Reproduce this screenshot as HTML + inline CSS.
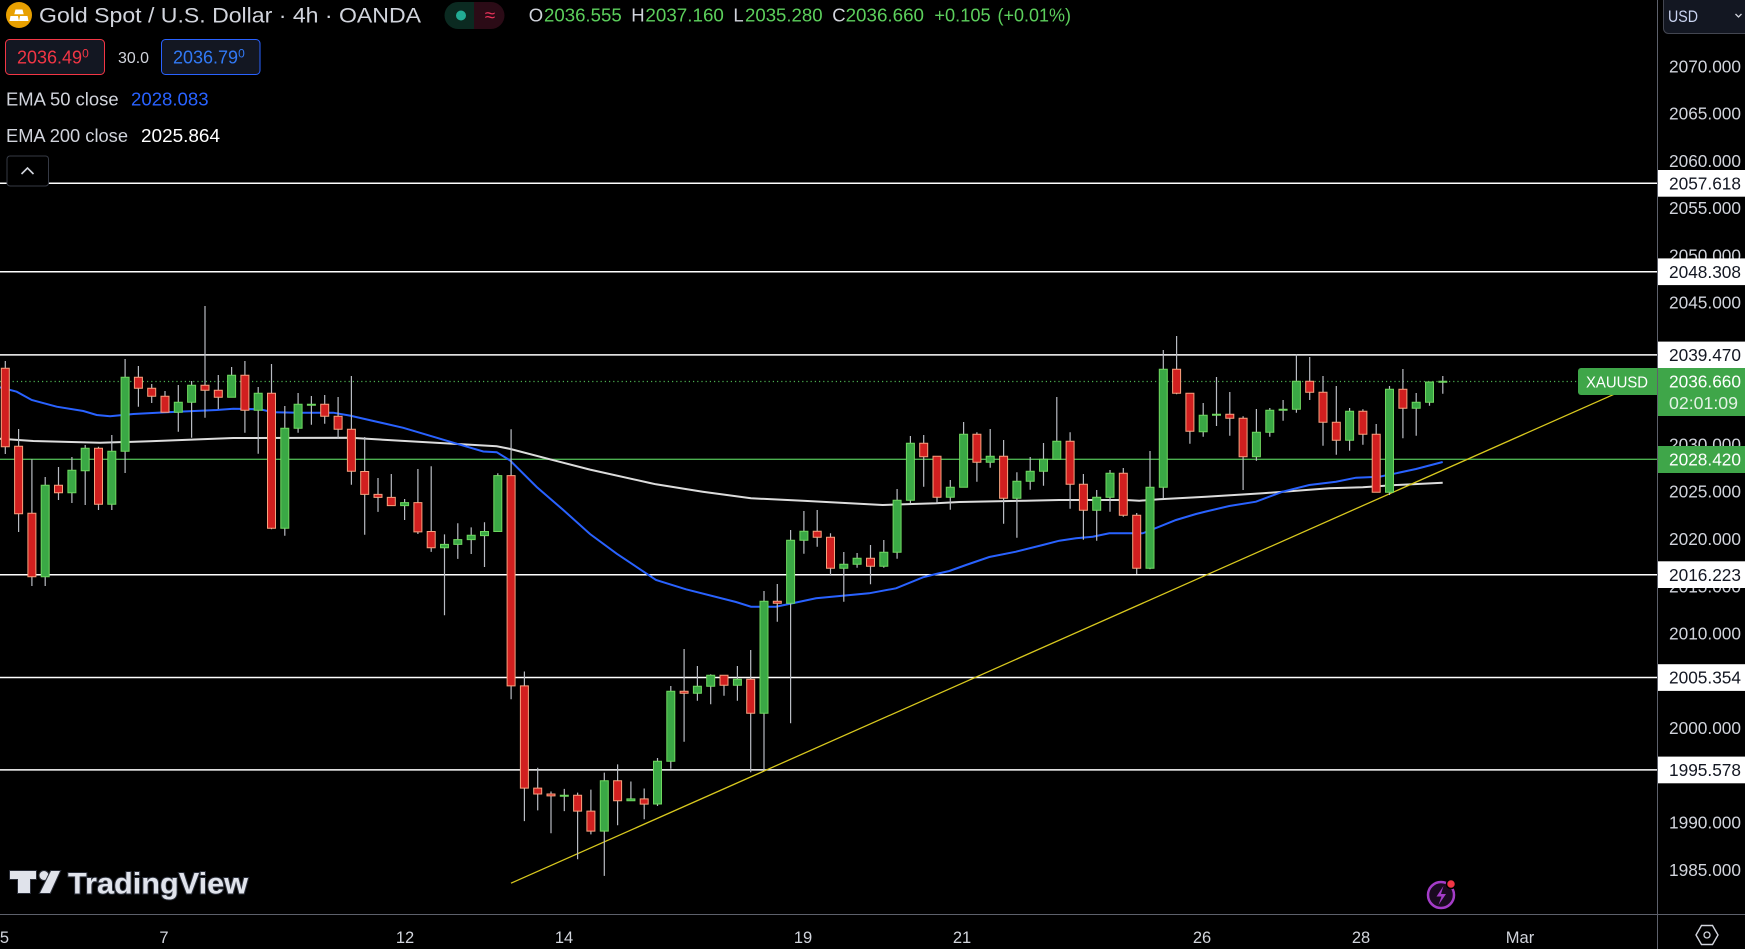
<!DOCTYPE html>
<html><head><meta charset="utf-8"><style>
html,body{margin:0;padding:0;background:#000;}
svg{display:block;}
text{font-family:"Liberation Sans",sans-serif;}
</style></head><body>
<svg width="1745" height="949" viewBox="0 0 1745 949" xmlns="http://www.w3.org/2000/svg">
<rect width="1745" height="949" fill="#000"/>
<defs><clipPath id="c"><rect x="0" y="0" width="1657" height="914"/></clipPath></defs>
<g clip-path="url(#c)">
<!-- horizontal level lines -->
<g stroke="#ffffff" stroke-width="1.5">
<line x1="0" y1="183.3" x2="1657" y2="183.3"/>
<line x1="0" y1="271.7" x2="1657" y2="271.7"/>
<line x1="0" y1="354.9" x2="1657" y2="354.9"/>
<line x1="0" y1="574.7" x2="1657" y2="574.7"/>
<line x1="0" y1="677.5" x2="1657" y2="677.5"/>
<line x1="0" y1="769.9" x2="1657" y2="769.9"/>
</g>
<line x1="0" y1="459.3" x2="1657" y2="459.3" stroke="#4caf50" stroke-width="1.3"/>
<line x1="0" y1="381.5" x2="1578" y2="381.5" stroke="#4caf50" stroke-width="1.2" stroke-dasharray="1.2 3"/>
<!-- EMA 200 -->
<polyline fill="none" stroke="#dcdcdc" stroke-width="2" points="0,438.7 33.3,441 100,442.7 150,441.3 233.3,438 350,437.8 496.7,446.3 510,448.9 550,459.3 590,469.6 650,483 656,484.3 702.7,491.7 751,498.3 802.7,500.7 882.7,505 936,503.3 959.3,502 1026,500.7 1059.3,500 1126,500 1139.3,500.7 1159.3,499.3 1206,496.7 1262.7,493.3 1329.3,488.3 1362.7,487.3 1396,485 1442.7,482.7"/>
<!-- EMA 50 -->
<polyline fill="none" stroke="#2962ff" stroke-width="2" points="0,387.3 16.7,391.7 31.7,400 56.7,406.7 83.3,411 96.7,415 110,416.3 133.3,414 166.7,412.3 216.7,410 233.3,408.7 260,409.3 273.3,412.3 300,412.7 333.3,412.7 350,415.6 403.3,427.8 456.7,443.7 483.3,451.5 496.7,452.2 510,460.4 536.7,487 563.3,510 590,534 616.7,553.7 650,575.9 656,580 686,589.3 736,602 751,606.7 776,606.7 789,604 816,598.3 869,593.3 896,588.3 923,577.3 936,574 949.3,571 966,565 989.3,557 1016,551.7 1042.7,545 1059.3,540.7 1076,538.3 1092.7,536.7 1109.3,533.3 1142.7,533.3 1159.3,526.7 1176,520 1196,514 1206,511.5 1229.3,506 1256,501.7 1282.7,491.7 1309.3,485 1336,481.7 1356,477.7 1379.3,476.7 1396,473.3 1416,469 1442.7,462"/>
<!-- trendline -->
<line x1="511" y1="883.2" x2="1614" y2="394.3" stroke="#d8c81e" stroke-width="1.3"/>
<!-- wicks -->
<path fill="none" stroke="#b8bbc2" stroke-width="1.2" d="M5.3 361V454M18.6 429V532M31.9 459.3V586M45.2 477V586M58.5 467V500M71.9 457V503M85.2 445V505M98.5 446.7V510M111.8 435V510M125.1 359V473M138.4 366V406.7M151.7 384V403M165 391V412.3M178.3 385V431.7M191.6 381V437.7M205 306V417.7M218.3 375V409M231.6 367V397.3M244.9 361V432.7M258.2 387V453.7M271.5 364V529.3M284.8 406V535.7M298.1 393V432.7M311.4 396V424.7M324.7 395V423.7M338.1 397V438.7M351.4 376V484.7M364.7 437V534.8M378 478V511.9M391.3 474V505.6M404.6 499V520M417.9 469V534M431.2 466.3V551.9M444.5 534.4V615.2M457.8 523.3V558.9M471.2 527.4V554M484.5 522.2V567M497.8 473.3V531.5M511.1 429.3V699.3M524.4 671.5V821.1M537.7 767.8V810.4M551 791.5V833.3M564.3 788.9V811.1M577.6 792.6V859.3M590.9 789.6V834.4M604.3 772.6V875.9M617.6 764.4V825.2M630.9 781.5V800.7M644.2 788.5V819.3M657.5 758V806M670.8 686V768.7M684.1 649V741.7M697.4 666V700.7M710.7 674.3V704.3M724 675.3V695.7M737.4 666V700.7M750.7 650V772.3M764 591V770M777.3 584V621.7M790.6 530V723.3M803.9 511V553.7M817.2 510V546.7M830.5 533.3V575.7M843.8 552V601.7M857.1 553V567.7M870.5 545V584.3M883.8 540V567.7M897.1 489V558.7M910.4 436V503.3M923.7 435V486.7M937 456.3V503.3M950.3 480V509.7M963.6 422V487.3M976.9 432.3V481.7M990.2 429V467.7M1003.6 440V523.7M1016.9 472.3V537.7M1030.2 457V489.7M1043.5 443V485.7M1056.8 397V459.3M1070.1 432.3V508.7M1083.4 474V539.7M1096.7 490V540.7M1110 470V511.7M1123.3 468V516.7M1136.7 513V574M1150 451V569.3M1163.3 350V498.3M1176.6 336V394.3M1189.9 393.3V443.7M1203.2 403V436.7M1216.5 377V426M1229.8 392V435.7M1243.1 416.3V490M1256.4 409V460.7M1269.8 408V436.7M1283.1 400V420.7M1296.4 354V412.7M1309.7 357V400M1323 376V445.7M1336.3 386V454.7M1349.6 408V450.7M1362.9 409.3V444.7M1376.2 424V492.3M1389.5 386V495M1402.9 369V438.3M1416.2 393V435.7M1429.5 382V405.7M1442.8 376V393.7"/>
<!-- green bodies -->
<path fill="#3aa845" stroke="#6fd760" stroke-width="1" d="M41.2 485.3h8V576.7h-8zM67.9 470.3h8V492.7h-8zM81.2 448.3h8V470.7h-8zM107.8 451.3h8V504.3h-8zM121.1 377.3h8V451.3h-8zM174.3 402.3h8V412.3h-8zM187.6 385.3h8V402.3h-8zM227.6 375.3h8V397.3h-8zM254.2 393.3h8V410.3h-8zM280.8 428.3h8V528.3h-8zM294.1 404.3h8V428.3h-8zM307.4 404.3h8V405.3h-8zM400.6 502.6h8V505.6h-8zM440.5 544.4h8V547.8h-8zM453.8 539.6h8V544.4h-8zM467.2 535.2h8V539.6h-8zM480.5 531.5h8V535.6h-8zM493.8 475.6h8V531.5h-8zM560.3 795.2h8V796.2h-8zM600.3 780.7h8V831.1h-8zM626.9 798.9h8V800.7h-8zM653.5 761.3h8V804h-8zM666.8 691.3h8V761.3h-8zM693.4 686.3h8V693.3h-8zM706.7 675.3h8V686.3h-8zM733.4 679.3h8V685.3h-8zM760 601.3h8V713.3h-8zM786.6 540.3h8V603.3h-8zM799.9 531.3h8V540.3h-8zM839.8 564.3h8V568.3h-8zM853.1 558.3h8V564.3h-8zM879.8 552.3h8V566.3h-8zM893.1 500.3h8V552.3h-8zM906.4 443.3h8V500.3h-8zM946.3 487.3h8V497.3h-8zM959.6 434.3h8V487.3h-8zM986.2 456.3h8V462.3h-8zM1012.9 481.3h8V498.3h-8zM1026.2 471.3h8V481.3h-8zM1039.5 459.3h8V471.3h-8zM1052.8 441.3h8V459.3h-8zM1092.7 497.3h8V510.3h-8zM1106 473.3h8V497.3h-8zM1146 487.3h8V568.3h-8zM1159.3 369.3h8V487.3h-8zM1199.2 415.3h8V431.7h-8zM1212.5 414.3h8V415.3h-8zM1252.4 432.3h8V456.7h-8zM1265.8 410.3h8V432.3h-8zM1279.1 409.3h8V410.3h-8zM1292.4 381.3h8V409.3h-8zM1345.6 411.3h8V440.3h-8zM1385.5 389.3h8V492.3h-8zM1412.2 402.3h8V408.3h-8zM1425.5 382h8V402.3h-8zM1438.8 381.3h8V382.3h-8z"/>
<!-- red bodies -->
<path fill="#d11f1f" stroke="#f7a27f" stroke-width="1" d="M1.3 368.3h8V446.7h-8zM14.6 446.3h8V513.7h-8zM27.9 513.3h8V576.7h-8zM54.5 485.3h8V492.7h-8zM94.5 448.3h8V504.3h-8zM134.4 377.3h8V388.3h-8zM147.7 388.3h8V396.3h-8zM161 396.3h8V412.3h-8zM201 385.3h8V390.3h-8zM214.3 390.3h8V397.3h-8zM240.9 375.3h8V410.3h-8zM267.5 393.3h8V528.3h-8zM320.7 404.3h8V416.3h-8zM334.1 416.3h8V429.3h-8zM347.4 429.3h8V471.3h-8zM360.7 471.5h8V494.4h-8zM374 494.4h8V497.4h-8zM387.3 497.4h8V505.6h-8zM413.9 502.6h8V531.9h-8zM427.2 531.5h8V547.8h-8zM507.1 475.6h8V685.9h-8zM520.4 685.9h8V788.1h-8zM533.7 788.1h8V794h-8zM547 794h8V795.9h-8zM573.6 795.2h8V811.1h-8zM586.9 811.1h8V831.1h-8zM613.6 780.7h8V800.7h-8zM640.2 798.9h8V804.1h-8zM680.1 691.3h8V693.3h-8zM720 675.3h8V685.3h-8zM746.7 679.3h8V713.3h-8zM773.3 601.3h8V603.3h-8zM813.2 531.3h8V537.3h-8zM826.5 537.3h8V568.3h-8zM866.5 558.3h8V566.3h-8zM919.7 443.3h8V456.7h-8zM933 456.3h8V497.3h-8zM972.9 434.3h8V462.3h-8zM999.6 456.3h8V498.3h-8zM1066.1 441.3h8V484.3h-8zM1079.4 484.3h8V510.3h-8zM1119.3 473.3h8V515.3h-8zM1132.7 515.3h8V568.3h-8zM1172.6 369.3h8V393.3h-8zM1185.9 393.3h8V431.3h-8zM1225.8 414.3h8V418.3h-8zM1239.1 418.3h8V456.7h-8zM1305.7 381.3h8V392.3h-8zM1319 392.3h8V422.3h-8zM1332.3 422.3h8V440.3h-8zM1358.9 411.3h8V434.3h-8zM1372.2 434.3h8V492.3h-8zM1398.9 389.3h8V408.3h-8z"/>
<!-- XAUUSD label -->
<path d="M1581 368h76v27h-76a3 3 0 0 1 -3 -3v-21a3 3 0 0 1 3 -3z" fill="#3fa649"/>
<text x="1586" y="387.5" font-size="16" fill="#ffffff" textLength="62" lengthAdjust="spacingAndGlyphs">XAUUSD</text>
<!-- watermark -->
<g fill="#e0e3eb" stroke="#2a2e39" stroke-width="2" paint-order="stroke">
<path d="M10 871h26v8h-6v14h-12v-14h-8z"/>
<circle cx="44" cy="875.5" r="4.5"/>
<path d="M51 871h9l-10 22h-10z"/>
<text x="68" y="893.5" font-size="30" font-weight="bold" textLength="180" lengthAdjust="spacingAndGlyphs">TradingView</text>
</g>
<!-- lightning icon -->
<circle cx="1441" cy="895" r="13" fill="#1a0a20" stroke="#a43cc8" stroke-width="2.5"/>
<path d="M1443.5 886l-7 10.5h5l-3 8.5 7.5-11h-5z" fill="#a43cc8"/>
<circle cx="1451" cy="884" r="4.5" fill="#f23645" stroke="#000" stroke-width="1.5"/>
</g>
<!-- header -->
<circle cx="19" cy="15" r="13" fill="#e8a000"/>
<path d="M15.5 9.5h7l1.2 4.8h-9.4zM10.5 16h7.5l1 5h-9.5zM20 16h7.5l1 5h-9.5z" fill="#ffffff"/>
<text x="39" y="22.5" font-size="21.5" fill="#d1d4dc" textLength="382" lengthAdjust="spacingAndGlyphs">Gold Spot / U.S. Dollar · 4h · OANDA</text>
<path d="M458 2h16v27h-16a13.5 13.5 0 0 1 0 -27z" fill="#0b2a21"/>
<path d="M474 2h17a13.5 13.5 0 0 1 0 27h-17z" fill="#2b0b16"/>
<circle cx="461" cy="15.5" r="5" fill="#22ab94"/>
<text x="490" y="21.5" font-size="19" fill="#e8335a" text-anchor="middle">≈</text>
<g font-size="18.5">
<text x="528.7" y="21.5" fill="#d1d4dc">O</text>
<text x="544" y="21.5" fill="#5ccf5c" textLength="77.7" lengthAdjust="spacingAndGlyphs">2036.555</text>
<text x="631.3" y="21.5" fill="#d1d4dc">H</text>
<text x="645.4" y="21.5" fill="#5ccf5c" textLength="78.5" lengthAdjust="spacingAndGlyphs">2037.160</text>
<text x="733.4" y="21.5" fill="#d1d4dc">L</text>
<text x="745" y="21.5" fill="#5ccf5c" textLength="77.6" lengthAdjust="spacingAndGlyphs">2035.280</text>
<text x="832.2" y="21.5" fill="#d1d4dc">C</text>
<text x="845.6" y="21.5" fill="#5ccf5c" textLength="78.4" lengthAdjust="spacingAndGlyphs">2036.660</text>
<text x="934.4" y="21.5" fill="#5ccf5c" textLength="56.2" lengthAdjust="spacingAndGlyphs">+0.105</text>
<text x="997.5" y="21.5" fill="#5ccf5c" textLength="73.5" lengthAdjust="spacingAndGlyphs">(+0.01%)</text>
</g>
<rect x="5.5" y="39.5" width="99" height="35" rx="4" fill="#131722" stroke="#f23645" stroke-width="1"/>
<text x="17" y="63.5" font-size="18" fill="#f23645">2036.49<tspan font-size="12" dy="-6">0</tspan></text>
<text x="118" y="63" font-size="16" fill="#d1d4dc" textLength="31" lengthAdjust="spacingAndGlyphs">30.0</text>
<rect x="161.5" y="39.5" width="98.5" height="35" rx="4" fill="#131722" stroke="#2962ff" stroke-width="1"/>
<text x="173" y="63.5" font-size="18" fill="#3179f5">2036.79<tspan font-size="12" dy="-6">0</tspan></text>
<text x="6" y="105.5" font-size="18" fill="#d1d4dc" textLength="112.6" lengthAdjust="spacingAndGlyphs">EMA 50 close</text>
<text x="131" y="105.5" font-size="18" fill="#2962ff" textLength="77.6" lengthAdjust="spacingAndGlyphs">2028.083</text>
<text x="6" y="142" font-size="18" fill="#d1d4dc" textLength="122" lengthAdjust="spacingAndGlyphs">EMA 200 close</text>
<text x="141" y="142" font-size="18" fill="#ffffff" textLength="79" lengthAdjust="spacingAndGlyphs">2025.864</text>
<rect x="7" y="156" width="41.5" height="30" rx="3" fill="#000" stroke="#363a45" stroke-width="1"/>
<polyline points="21.5,174 27.5,168 33.5,174" fill="none" stroke="#d1d4dc" stroke-width="1.6"/>
<!-- axes borders -->
<line x1="1657.5" y1="0" x2="1657.5" y2="949" stroke="#5d606b" stroke-width="1"/>
<line x1="0" y1="914.5" x2="1745" y2="914.5" stroke="#5d606b" stroke-width="1"/>
<!-- USD -->
<rect x="1663.5" y="-6" width="90" height="39.5" rx="5" fill="#131722" stroke="#434651" stroke-width="1"/>
<text x="1668" y="22" font-size="17" fill="#c9d3f0" textLength="30" lengthAdjust="spacingAndGlyphs">USD</text>
<polyline points="1735.5,14 1738.5,17 1741.5,14" fill="none" stroke="#d1d4dc" stroke-width="1.3"/>
<!-- price axis ticks -->
<g font-size="17.5" fill="#d1d4dc">
<text x="1669" y="72.3" textLength="72" lengthAdjust="spacingAndGlyphs">2070.000</text>
<text x="1669" y="119.6" textLength="72" lengthAdjust="spacingAndGlyphs">2065.000</text>
<text x="1669" y="166.8" textLength="72" lengthAdjust="spacingAndGlyphs">2060.000</text>
<text x="1669" y="214.1" textLength="72" lengthAdjust="spacingAndGlyphs">2055.000</text>
<text x="1669" y="261.4" textLength="72" lengthAdjust="spacingAndGlyphs">2050.000</text>
<text x="1669" y="308.6" textLength="72" lengthAdjust="spacingAndGlyphs">2045.000</text>
<text x="1669" y="450.5" textLength="72" lengthAdjust="spacingAndGlyphs">2030.000</text>
<text x="1669" y="497.7" textLength="72" lengthAdjust="spacingAndGlyphs">2025.000</text>
<text x="1669" y="545" textLength="72" lengthAdjust="spacingAndGlyphs">2020.000</text>
<text x="1669" y="592.3" textLength="72" lengthAdjust="spacingAndGlyphs">2015.000</text>
<text x="1669" y="639.6" textLength="72" lengthAdjust="spacingAndGlyphs">2010.000</text>
<text x="1669" y="734.1" textLength="72" lengthAdjust="spacingAndGlyphs">2000.000</text>
<text x="1669" y="828.7" textLength="72" lengthAdjust="spacingAndGlyphs">1990.000</text>
<text x="1669" y="876" textLength="72" lengthAdjust="spacingAndGlyphs">1985.000</text>
</g>
<!-- level labels -->
<g fill="#ffffff">
<rect x="1658" y="170" width="87" height="26.7"/>
<rect x="1658" y="258.4" width="87" height="26.7"/>
<rect x="1658" y="341.6" width="87" height="26.4"/>
<rect x="1658" y="561.3" width="87" height="26.7"/>
<rect x="1658" y="664.2" width="87" height="26.7"/>
<rect x="1658" y="756.6" width="87" height="26.7"/>
</g>
<g font-size="17.5" fill="#131722">
<text x="1669" y="189.5" textLength="72" lengthAdjust="spacingAndGlyphs">2057.618</text>
<text x="1669" y="277.9" textLength="72" lengthAdjust="spacingAndGlyphs">2048.308</text>
<text x="1669" y="361.1" textLength="72" lengthAdjust="spacingAndGlyphs">2039.470</text>
<text x="1669" y="580.9" textLength="72" lengthAdjust="spacingAndGlyphs">2016.223</text>
<text x="1669" y="683.7" textLength="72" lengthAdjust="spacingAndGlyphs">2005.354</text>
<text x="1669" y="776.1" textLength="72" lengthAdjust="spacingAndGlyphs">1995.578</text>
</g>
<rect x="1658" y="368" width="87" height="48" fill="#3fa649"/>
<text x="1669" y="387.5" font-size="17.5" fill="#ffffff" textLength="72" lengthAdjust="spacingAndGlyphs">2036.660</text>
<text x="1669" y="408.8" font-size="17.5" fill="#e3f2e4" textLength="69" lengthAdjust="spacingAndGlyphs">02:01:09</text>
<rect x="1658" y="446" width="87" height="27" fill="#3fa649"/>
<text x="1669" y="465.6" font-size="17.5" fill="#ffffff" textLength="72" lengthAdjust="spacingAndGlyphs">2028.420</text>
<!-- time axis -->
<g font-size="16.5" fill="#d1d4dc" text-anchor="middle">
<text x="4.5" y="943">5</text>
<text x="164" y="943">7</text>
<text x="405" y="943">12</text>
<text x="564" y="943">14</text>
<text x="803" y="943">19</text>
<text x="962" y="943">21</text>
<text x="1202" y="943">26</text>
<text x="1361" y="943">28</text>
<text x="1520" y="943">Mar</text>
</g>
<!-- settings icon -->
<polygon points="1696,935 1701.5,925.5 1712.5,925.5 1718,935 1712.5,944.5 1701.5,944.5" fill="none" stroke="#d1d4dc" stroke-width="1.4"/>
<circle cx="1707" cy="935" r="3" fill="none" stroke="#d1d4dc" stroke-width="1.3"/>
</svg>
</body></html>
